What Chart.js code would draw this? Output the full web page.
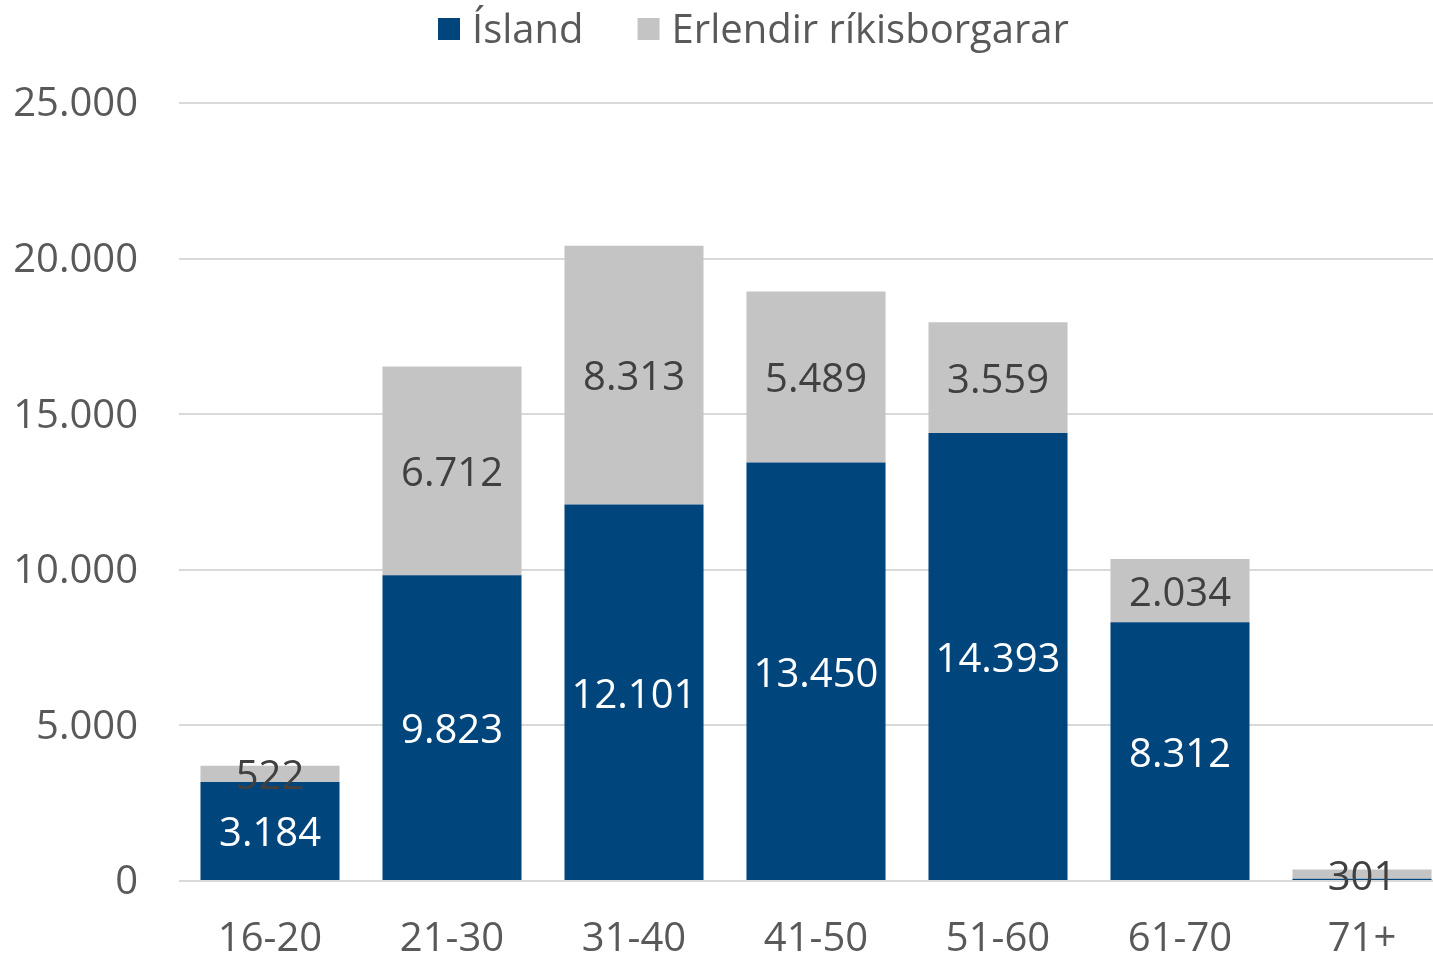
<!DOCTYPE html>
<html>
<head>
<meta charset="utf-8">
<script src="https://cdn.jsdelivr.net/npm/chart.js@4/dist/chart.umd.min.js"></script>
<style>
html,body{margin:0;padding:0;background:#fff;overflow:hidden;}
#wrap{width:1433px;height:954px;position:relative;overflow:hidden;}
</style>
</head>
<body>
<div id="wrap"><canvas id="c" width="1453" height="954"></canvas></div>
<script>
const categories = ['16-20','21-30','31-40','41-50','51-60','61-70','71+'];
const islandValues = [3184, 9823, 12101, 13450, 14393, 8312, 70];
const foreignValues = [522, 6712, 8313, 5489, 3559, 2034, 301];
const islandLabels = ['3.184','9.823','12.101','13.450','14.393','8.312',''];
const foreignLabels = ['522','6.712','8.313','5.489','3.559','2.034','301'];
const seriesNames = ['Ísland','Erlendir ríkisborgarar'];
const yTicks = [0, 5000, 10000, 15000, 20000, 25000];

const FONT = '"Open Sans", sans-serif';
const BLUE = '#00457C';
const GREY = '#C4C4C4';

function fmt(v){ return String(v).replace(/\B(?=(\d{3})+(?!\d))/g, '.'); }

const dataLabelPlugin = {
  id: 'dataLabels',
  afterDatasetsDraw(chart){
    const ctx = chart.ctx;
    ctx.save();
    ctx.font = '40px ' + FONT;
    ctx.textAlign = 'center';
    ctx.textBaseline = 'middle';
    chart.data.datasets.forEach((ds, di) => {
      const meta = chart.getDatasetMeta(di);
      meta.data.forEach((bar, i) => {
        const txt = ds.labelsText[i];
        if (!txt) return;
        const y = (bar.y + bar.base) / 2 + 4;
        ctx.fillStyle = ds.labelColor;
        ctx.fillText(txt, bar.x, y);
      });
    });
    ctx.restore();
  }
};

const legendPlugin = {
  id: 'customLegend',
  afterDraw(chart){
    const ctx = chart.ctx;
    ctx.save();
    ctx.font = '40px ' + FONT;
    ctx.textBaseline = 'middle';
    const box = 22, gapText = 12, gapItem = 54;
    const items = chart.data.datasets.map(d => ({label: d.label, color: d.backgroundColor}));
    let x = 438;
    const cy = 29;
    items.forEach(it => {
      it.w = ctx.measureText(it.label).width;
      ctx.fillStyle = it.color;
      ctx.fillRect(x, cy - box/2, box, box);
      x += box + gapText;
      ctx.fillStyle = '#595959';
      ctx.fillText(it.label, x, cy + 3);
      x += it.w + gapItem;
    });
    ctx.restore();
  }
};

new Chart(document.getElementById('c'), {
  type: 'bar',
  data: {
    labels: categories,
    datasets: [
      {label: seriesNames[0], data: islandValues, backgroundColor: BLUE, labelsText: islandLabels, labelColor: '#FFFFFF',
       barPercentage: 0.764, categoryPercentage: 1.0},
      {label: seriesNames[1], data: foreignValues, backgroundColor: GREY, labelsText: foreignLabels, labelColor: '#404040',
       barPercentage: 0.764, categoryPercentage: 1.0}
    ]
  },
  options: {
    responsive: false,
    animation: false,
    devicePixelRatio: 1,
    layout: {padding: {top: 103, left: 0, right: 0, bottom: 0}},
    plugins: {legend: {display: false}, tooltip: {enabled: false}},
    scales: {
      x: {
        stacked: true,
        grid: {display: false},
        border: {display: false},
        ticks: {color: '#595959', font: {family: FONT, size: 40}, padding: 27, maxRotation: 0},
        afterFit(s){ s.height = 73; }
      },
      y: {
        stacked: true,
        min: 0, max: 25000,
        afterBuildTicks(s){ s.ticks = yTicks.map(v => ({value: v})); },
        grid: {color: '#D9D9D9', lineWidth: 2, drawTicks: false},
        border: {display: false},
        ticks: {color: '#595959', font: {family: FONT, size: 40}, padding: 41, labelOffset: 2, callback: v => fmt(v)},
        afterFit(s){ s.width = 179; }
      }
    }
  },
  plugins: [dataLabelPlugin, legendPlugin]
});
</script>
</body>
</html>
